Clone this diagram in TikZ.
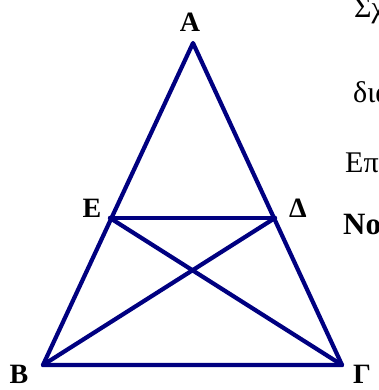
\documentclass[tikz,border=0pt]{standalone}
\usepackage{fontspec}
\setmainfont{Liberation Serif}
\begin{document}
\begin{tikzpicture}[x=1pt,y=-1pt,
  seg/.style={draw={rgb,255:red,0;green,0;blue,128}, line width=4.2pt, line cap=round, line join=round},
  vlabel/.style={font=\fontsize{28}{30}\selectfont\bfseries, inner sep=0pt, anchor=base},
  sidetext/.style={font=\fontsize{30}{34}\selectfont, inner sep=0pt, anchor=base west},
  vdot/.style={fill=red, inner sep=0pt, minimum size=2.5pt}]
\useasboundingbox (0,0) rectangle (378,390);
\clip (0,0) rectangle (378,390);
% vertices
\coordinate (A) at (193,43);
\coordinate (B) at (43,365);
\coordinate (G) at (342,365);
\coordinate (E) at (110,218);
\coordinate (D) at (275,218);
% tiny red vertex marks
\foreach \p in {A,B,G,E,D} { \node[vdot] (dot\p) at (\p) {}; }
% segments
\draw[seg] (A) -- (B) -- (G) -- cycle;
\draw[seg] (E) -- (D);
\draw[seg] (E) -- (G);
\draw[seg] (D) -- (B);
% vertex labels
\node[vlabel] (lA) at (190,32) {A};
\node[vlabel] (lE) at (92,217) {E};
\node[vlabel] (lD) at (298,217) {Δ};
\node[vlabel] (lB) at (19,383) {B};
\node[vlabel, anchor=base west] (lG) at (353,383) {Γ};
% cut-off text at the right
\node[sidetext] (t1) at (354,18) {Σχ};
\node[sidetext] (t2) at (353,103) {δια};
\node[sidetext] (t3) at (345,172) {Επ};
\node[sidetext, font=\fontsize{31}{34}\selectfont\bfseries] (t4) at (343,234) {Νο};
\end{tikzpicture}
\end{document}
